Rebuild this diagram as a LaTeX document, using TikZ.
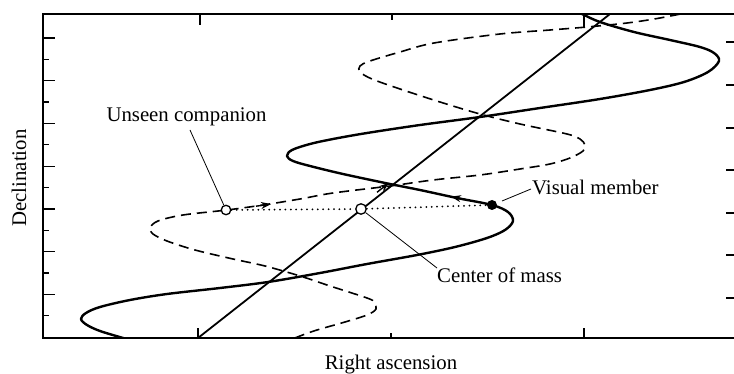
\documentclass[tikz,border=0pt]{standalone}
\usepackage{fontspec}
\setmainfont{Liberation Serif}
\usetikzlibrary{arrows.meta}
\begin{document}
\begin{tikzpicture}[x=1pt,y=-1pt,
  frame/.style={line width=1.6pt},
  tick/.style={line width=1.3pt},
  visual/.style={line width=2.4pt, line join=round},
  companion/.style={line width=1.6pt, dash pattern=on 10pt off 6pt},
  cmline/.style={line width=1.8pt},
  leader/.style={line width=0.8pt},
  dotline/.style={line width=2pt, line cap=round, dash pattern=on 0pt off 5.4pt},
  tip/.style={-{Stealth[length=10pt,width=7pt]}, line width=1.4pt},
  lab/.style={font=\fontsize{20.8}{24}\selectfont, inner sep=0pt},
  opendot/.style={circle, draw, fill=white, line width=1.3pt, minimum size=9.5pt, inner sep=0pt},
  fulldot/.style={circle, fill=black, minimum size=10pt, inner sep=0pt}]
\useasboundingbox (0,0) rectangle (734,374);
% frame
\coordinate (tl) at (43,14);
\coordinate (bl) at (43,338);
\coordinate (tr) at (734,14);
\coordinate (br) at (734,338);
\draw[frame] (tr) -- (tl) -- (bl) -- (br);
% ticks
\foreach \k in {1,...,7} {
  \draw[tick] (43,{337-42.7*\k}) -- ++(12,0);
  \draw[tick] (43,{337-42.7*\k+21.35}) -- ++(6,0);
}
\foreach \y in {42,85,128,170,213,255,298} \draw[tick] (726,\y) -- (734,\y);
\draw[tick] (200,14) -- (200,25);
\draw[tick] (392,14) -- (392,20);
\draw[tick] (584,14) -- (584,28);
\draw[tick] (198,338) -- (198,328);
\draw[tick] (391,338) -- (391,333);
\draw[tick] (584,338) -- (584,328);
% curves
\begin{scope}
\clip (43,14) rectangle (734,338);
\draw[visual] plot[smooth, tension=0.55] coordinates {
 (150,346) (123,338) (100,331) (87,325) (81,319) (86,313) (100,307) (130,300)
 (167,294) (220,288) (268,282) (320,273) (367,264) (417,255) (455,247) (487,238)
 (505,230) (513,221) (508,212) (492,205) (457,198) (420,190) (390,184) (343,174)
 (310,166) (293,161) (287,156) (292,150) (310,144) (333,139) (367,133) (420,125)
 (480,117) (540,108) (600,99) (650,90) (684,82) (708,72) (719,61) (714,53)
 (700,47) (670,40) (634,32) (600,22) (580,13) (565,6)};
\draw[companion] plot[smooth, tension=0.55] coordinates {
 (280,344) (300,336) (317,330) (345,322) (367,315) (376,309) (374,302) (367,298)
 (330,286) (300,276) (265,266) (233,259) (195,250) (167,241) (153,234) (150,228)
 (158,221) (183,215) (227,210) (263,205) (300,199) (333,193) (390,186) (433,180)
 (480,175) (520,169) (550,164) (570,158) (583,151) (585,145) (580,139) (567,134)
 (520,124) (480,114) (440,102) (400,89) (372,79) (360,72) (360,66) (370,61)
 (400,52) (434,43) (500,34) (550,30) (587,27) (627,23) (660,18) (700,10)};
\end{scope}
% centre of mass path
\coordinate (cmA) at (198,338);
\coordinate (cmB) at (610,14);
\draw[cmline] (cmA) -- (cmB);
% direction arrows
\coordinate (a1s) at (256,206.2);
\coordinate (a1e) at (271,204.1);
\draw[tip] (a1s) -- (a1e);
\coordinate (a2s) at (377,192.3);
\coordinate (a2e) at (389,182.8);
\draw[tip] (a2s) -- (a2e);
\coordinate (a3s) at (467,200);
\coordinate (a3e) at (451,196.6);
\draw[tip] (a3s) -- (a3e);
% bodies
\node[opendot] (comp) at (226,210) {};
\node[opendot, minimum size=10.5pt] (cm) at (361,209) {};
\node[fulldot] (vis) at (492,205) {};
\draw[dotline] (comp) -- (cm) -- (vis);
% labels
\node[lab, anchor=base] (unseen) at (186.5,122) {Unseen companion};
\node[lab, anchor=base west] (vmlab) at (532,195) {Visual member};
\node[lab, anchor=base west] (cmlab) at (437,283) {Center of mass};
\node[lab, anchor=base] (ra) at (391,369) {Right ascension};
\node[lab, anchor=base, rotate=90] (dec) at (26,178) {Declination};
% leaders
\coordinate (uL) at (190,130);
\draw[leader] (uL) -- (comp);
\coordinate (vA) at (502,201);
\coordinate (vB) at (531,189);
\draw[leader] (vA) -- (vB);
\coordinate (cL) at (437,268);
\draw[leader] (cm) -- (cL);
\end{tikzpicture}
\end{document}
